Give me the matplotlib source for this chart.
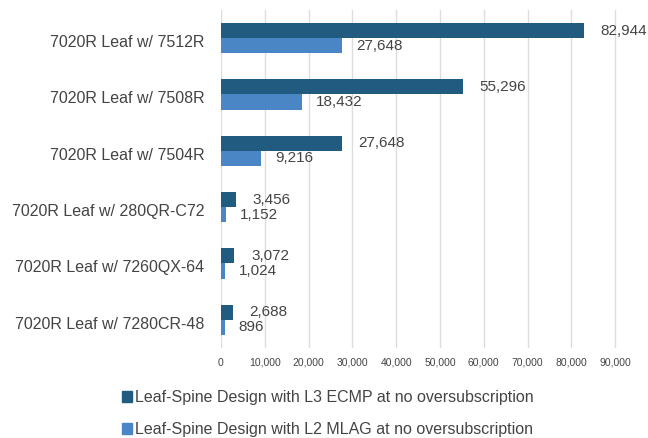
import numpy as np
import matplotlib.pyplot as plt
import matplotlib.transforms as mtransforms
from matplotlib.patches import Patch

plt.rcParams['font.family'] = ['Liberation Sans', 'DejaVu Sans']

categories = ['7020R Leaf w/ 7512R', '7020R Leaf w/ 7508R', '7020R Leaf w/ 7504R',
              '7020R Leaf w/ 280QR-C72', '7020R Leaf w/ 7260QX-64', '7020R Leaf w/ 7280CR-48']
l3_ecmp = [82944, 55296, 27648, 3456, 3072, 2688]
l2_mlag = [27648, 18432, 9216, 1152, 1024, 896]
series_names = ['Leaf-Spine Design with L3 ECMP at no oversubscription',
                'Leaf-Spine Design with L2 MLAG at no oversubscription']
xticks = np.arange(0, 90001, 10000)

dark = '#215b80'
light = '#4a86c6'
txt = '#444444'

fig = plt.figure(figsize=(6.48, 4.38), dpi=100)
ax = fig.add_axes([0.341, 0.2055, 0.642, 0.7717])

y = np.arange(len(categories))
h = 0.27
ax.barh(y - h / 2, l3_ecmp, height=h, color=dark, zorder=3)
ax.barh(y + h / 2, l2_mlag, height=h, color=light, zorder=3)

for yi, v in zip(y, l3_ecmp):
    ax.annotate(f'{v:,}', (v, yi - h / 2), xytext=(12, 0), textcoords='offset points',
                va='center', ha='left', fontsize=11, color=txt)
for yi, v in zip(y, l2_mlag):
    ax.annotate(f'{v:,}', (v, yi + h / 2), xytext=(10, 0), textcoords='offset points',
                va='center', ha='left', fontsize=11, color=txt)

ax.set_ylim(len(categories) - 0.5, -0.5)
ax.set_xlim(0, 95000)
ax.set_yticks(y)
ax.set_yticklabels(categories, fontsize=11.5, color=txt, va='center_baseline')
ax.set_xticks(xticks)
ax.set_xticklabels([f'{t:,}' for t in xticks], fontsize=7.5, color=txt)
ax.tick_params(axis='x', length=0, pad=7)
ax.tick_params(axis='y', length=0, pad=12)
ax.grid(axis='x', color='#dddddd', linewidth=1, zorder=0)
for s in ax.spines.values():
    s.set_visible(False)

# category labels sit a little below the bar pair
shift = mtransforms.ScaledTranslation(0, -2 / 72, fig.dpi_scale_trans)
for lbl in ax.get_yticklabels():
    lbl.set_transform(lbl.get_transform() + shift)

handles = [Patch(color=dark), Patch(color=light)]
fig.legend(handles, series_names, loc='upper left', bbox_to_anchor=(0.188, 0.109),
           frameon=False, fontsize=11.5, handlelength=0.65, handleheight=0.65,
           handletextpad=0.2, labelspacing=1.05, labelcolor=txt, borderaxespad=0,
           borderpad=0)

fig.savefig('out.png', dpi=100)
